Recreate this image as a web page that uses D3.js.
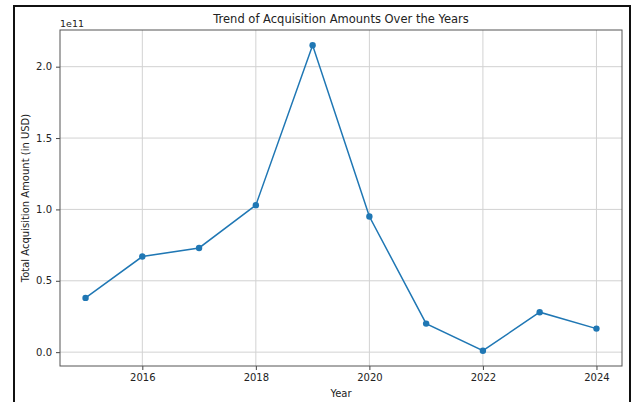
<!DOCTYPE html>
<html>
<head>
<meta charset="utf-8">
<script src="https://cdn.jsdelivr.net/npm/d3@7"></script>
<style>
  body { margin: 0; background: #fff; }
  svg text { font-family: "DejaVu Sans", sans-serif; fill: #222; }
</style>
</head>
<body>
<div id="chart"></div>
<script>
const years = [2015, 2016, 2017, 2018, 2019, 2020, 2021, 2022, 2023, 2024];
// total acquisition amount, in units of 1e11 USD
const amounts = [0.38, 0.67, 0.73, 1.03, 2.15, 0.95, 0.2, 0.01, 0.28, 0.165];
const xTicks = [2016, 2018, 2020, 2022, 2024];
const yTicks = [0, 0.5, 1.0, 1.5, 2.0];

const W = 631, H = 402;
const margin = { top: 30, left: 60, right: 9, bottom: 36 };
const width = W - margin.left - margin.right;
const height = H - margin.top - margin.bottom;
const blue = "#1f77b4";

const svg = d3.select("#chart").append("svg")
  .attr("width", W).attr("height", H);

// outer frame of the screenshot
svg.append("rect")
  .attr("x", 14).attr("y", 6)
  .attr("width", 616).attr("height", 410)
  .attr("fill", "none").attr("stroke", "#111").attr("stroke-width", 2);

const g = svg.append("g").attr("transform", `translate(${margin.left},${margin.top})`);

// matplotlib style 5% margins
const xPad = (d3.max(years) - d3.min(years)) * 0.05;
const xScale = d3.scaleLinear()
  .domain([d3.min(years) - xPad, d3.max(years) + xPad])
  .range([0, width]);
const yPad = (d3.max(amounts) - d3.min(amounts)) * 0.05;
const yScale = d3.scaleLinear()
  .domain([d3.min(amounts) - yPad, d3.max(amounts) + yPad])
  .range([height, 0]);

// grid
g.append("g").selectAll("line").data(xTicks).join("line")
  .attr("x1", d => xScale(d)).attr("x2", d => xScale(d))
  .attr("y1", 0).attr("y2", height)
  .attr("stroke", "#d2d2d2").attr("stroke-width", 1);
g.append("g").selectAll("line").data(yTicks).join("line")
  .attr("y1", d => yScale(d)).attr("y2", d => yScale(d))
  .attr("x1", 0).attr("x2", width)
  .attr("stroke", "#d2d2d2").attr("stroke-width", 1);

// axes
const xAxis = d3.axisBottom(xScale).tickValues(xTicks).tickFormat(d3.format("d"))
  .tickSize(4).tickPadding(4);
const yAxis = d3.axisLeft(yScale).tickValues(yTicks).tickFormat(d3.format(".1f"))
  .tickSize(4).tickPadding(4);

const gx = g.append("g").attr("transform", `translate(0,${height})`).call(xAxis);
const gy = g.append("g").call(yAxis);
[gx, gy].forEach(a => {
  a.select(".domain").remove();
  a.selectAll(".tick line").attr("stroke", "#444");
  a.selectAll(".tick text").attr("font-size", 10).attr("fill", "#222")
    .attr("font-family", "DejaVu Sans, sans-serif");
});

// spines
g.append("rect")
  .attr("width", width).attr("height", height)
  .attr("fill", "none").attr("stroke", "#555").attr("stroke-width", 1);

// line + markers
const line = d3.line()
  .x((d, i) => xScale(years[i]))
  .y(d => yScale(d));
g.append("path").datum(amounts)
  .attr("d", line)
  .attr("fill", "none").attr("stroke", blue).attr("stroke-width", 1.5);
g.selectAll(".dot").data(amounts).join("circle")
  .attr("class", "dot")
  .attr("cx", (d, i) => xScale(years[i]))
  .attr("cy", d => yScale(d))
  .attr("r", 3.2).attr("fill", blue);

// texts
svg.append("text")
  .attr("x", margin.left + width / 2).attr("y", 23)
  .attr("text-anchor", "middle").attr("font-size", 11.5)
  .text("Trend of Acquisition Amounts Over the Years");
svg.append("text")
  .attr("x", margin.left).attr("y", 27)
  .attr("font-size", 9.5)
  .text("1e11");
svg.append("text")
  .attr("x", margin.left + width / 2).attr("y", 397)
  .attr("text-anchor", "middle").attr("font-size", 10)
  .text("Year");
svg.append("text")
  .attr("transform", `translate(29, ${margin.top + height / 2}) rotate(-90)`)
  .attr("text-anchor", "middle").attr("font-size", 10)
  .text("Total Acquisition Amount (in USD)");
</script>
</body>
</html>
